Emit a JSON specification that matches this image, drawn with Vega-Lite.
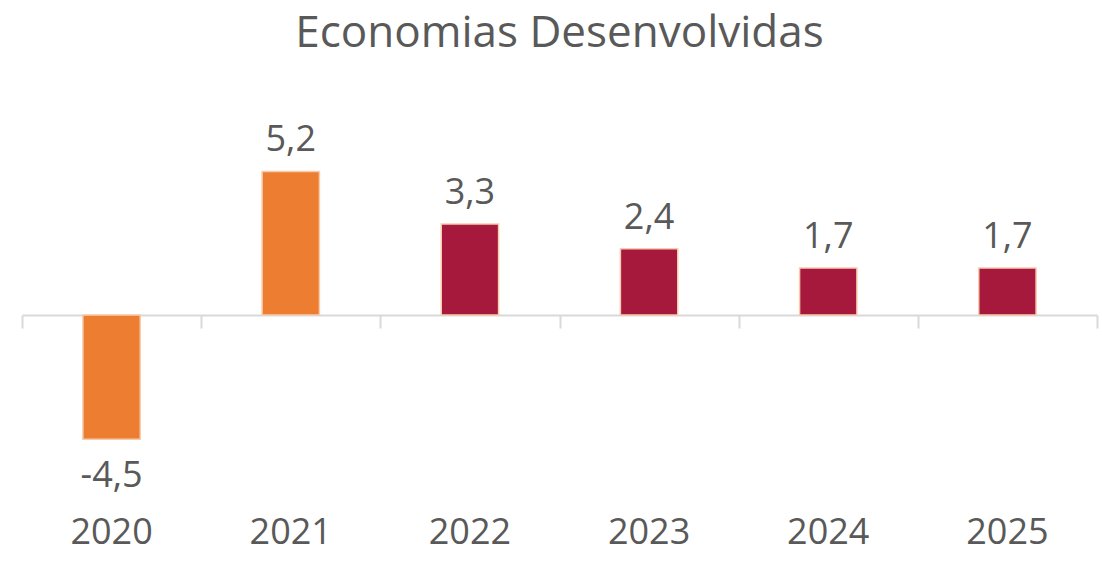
{
  "$schema": "https://vega.github.io/schema/vega-lite/v6.json",
  "autosize": {"type": "none"},
  "width": 1075,
  "height": 400,
  "padding": {"left": 22, "top": 100, "right": 5, "bottom": 63},
  "background": "white",
  "config": {
    "locale": {"number": {"decimal": ",", "thousands": ".", "grouping": [3], "currency": ["", ""], "minus": "-"}},
    "view": {"stroke": null},
    "font": "Open Sans"
  },
  "title": {
    "text": "Economias Desenvolvidas",
    "fontSize": 44,
    "font": "Open Sans",
    "fontWeight": "normal",
    "color": "#595959",
    "anchor": "middle",
    "offset": 44
  },
  "data": {
    "values": [
      {"ano": "2020", "valor": -4.5, "tipo": "observado"},
      {"ano": "2021", "valor": 5.2, "tipo": "observado"},
      {"ano": "2022", "valor": 3.3, "tipo": "projeção"},
      {"ano": "2023", "valor": 2.4, "tipo": "projeção"},
      {"ano": "2024", "valor": 1.7, "tipo": "projeção"},
      {"ano": "2025", "valor": 1.7, "tipo": "projeção"}
    ]
  },
  "encoding": {
    "x": {"field": "ano", "type": "ordinal", "scale": {"paddingInner": 0, "paddingOuter": 0}},
    "y": {"field": "valor", "type": "quantitative", "scale": {"domain": [-6.7, 7.79], "nice": false, "zero": false}, "axis": null}
  },
  "layer": [
    {
      "mark": {"type": "bar", "width": {"band": 0.32}, "stroke": "#F8CBAD", "strokeWidth": 1.5},
      "encoding": {
        "x": {"field": "ano", "type": "ordinal", "axis": {"orient": "bottom", "title": null, "domain": false, "ticks": false, "labelAngle": 0, "labelFontSize": 36, "labelColor": "#595959", "labelPadding": 15, "labelFont": "Open Sans"}},
        "color": {"field": "tipo", "type": "nominal", "scale": {"domain": ["observado", "projeção"], "range": ["#ED7D31", "#A6193C"]}, "legend": null}
      }
    },
    {
      "transform": [{"filter": "datum.valor >= 0"}],
      "mark": {"type": "text", "baseline": "alphabetic", "dy": -20, "fontSize": 36, "color": "#595959", "font": "Open Sans"},
      "encoding": {
        "x": {"field": "ano", "type": "ordinal", "axis": {"orient": "top", "offset": -215, "title": null, "labels": false, "tickBand": "extent", "tickSize": -13, "tickColor": "#D9D9D9", "tickWidth": 2, "domainColor": "#D9D9D9", "domainWidth": 2}},
        "text": {"field": "valor", "type": "quantitative", "format": ".1f"}
      }
    },
    {
      "transform": [{"filter": "datum.valor < 0"}],
      "mark": {"type": "text", "baseline": "top", "dy": 20, "fontSize": 36, "color": "#595959", "font": "Open Sans"},
      "encoding": {
        "x": {"field": "ano", "type": "ordinal", "axis": null},
        "text": {"field": "valor", "type": "quantitative", "format": ".1f"}
      }
    }
  ],
  "resolve": {"axis": {"x": "independent"}}
}
